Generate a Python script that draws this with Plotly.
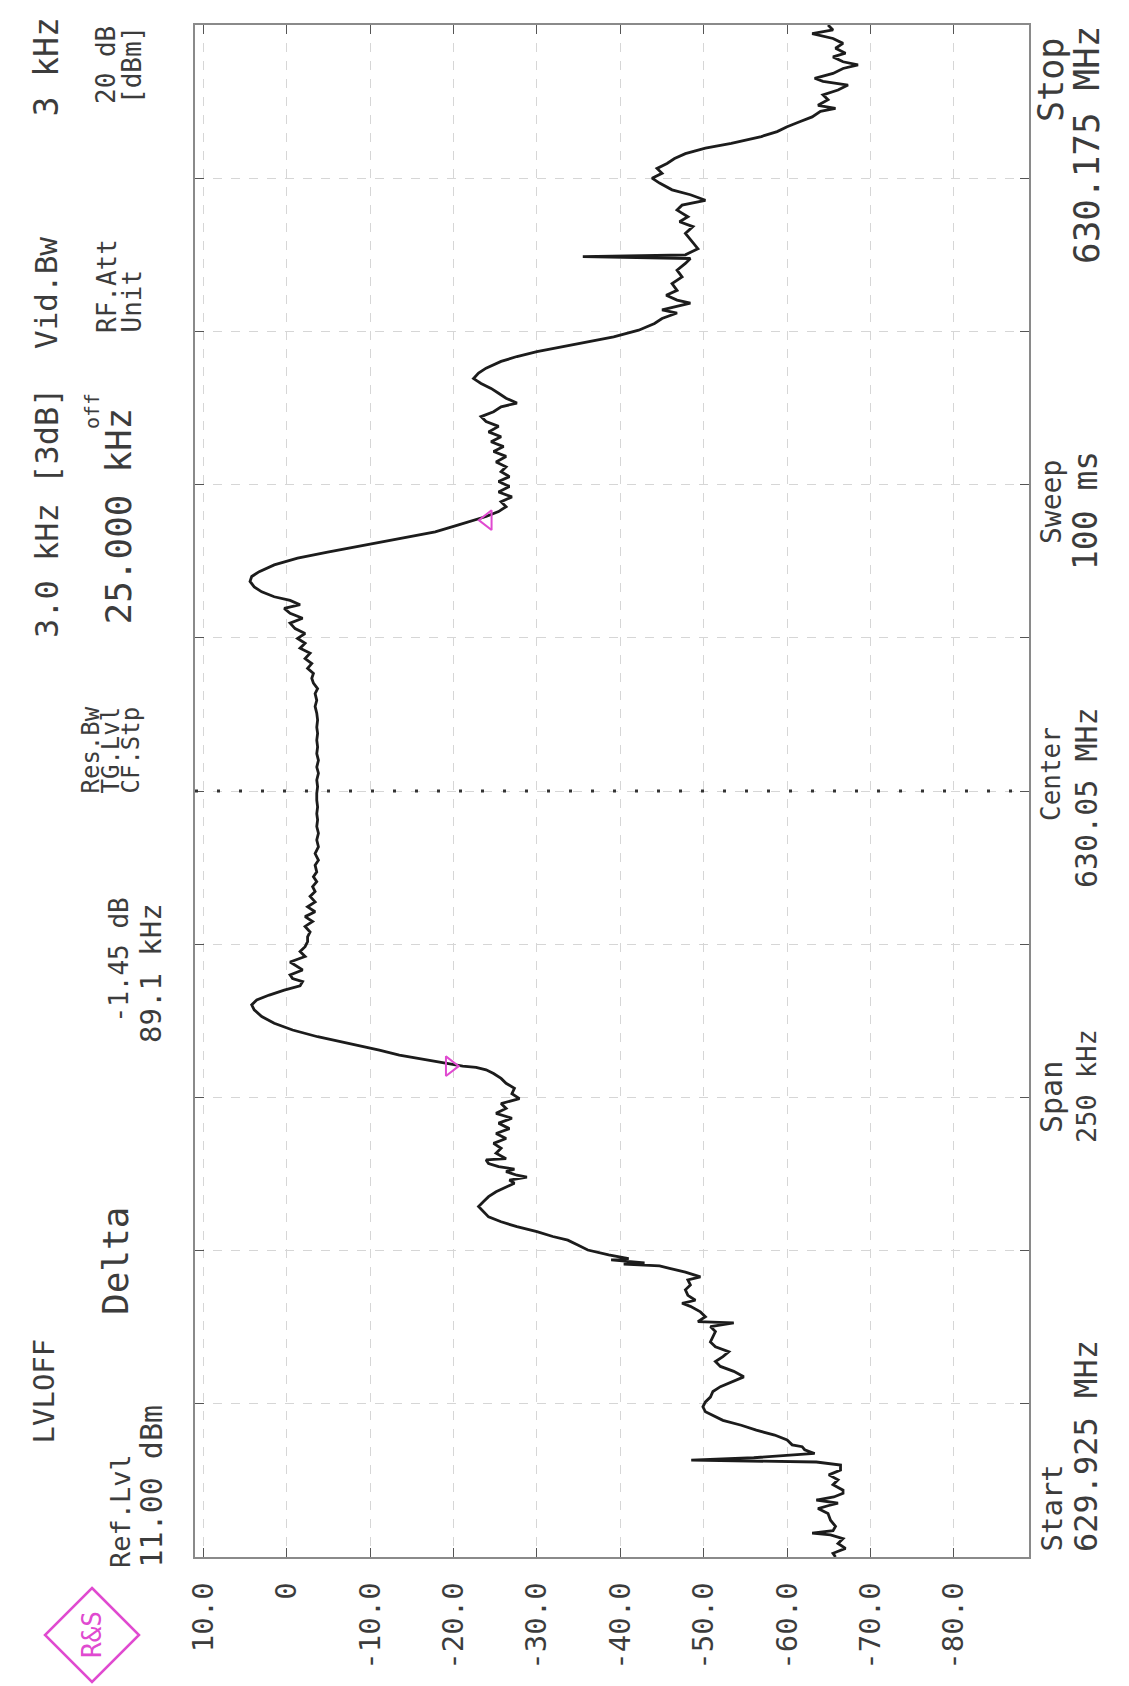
import plotly.graph_objects as go

# Analyzer settings printed around the graticule
START_MHZ = "629.925"
CENTER_MHZ = "630.05"
STOP_MHZ = "630.175"
SPAN_KHZ = 250.0
REF_LEVEL_DBM = 11.0
BOTTOM_LEVEL_DBM = -89.0

# Level graticule (10 dB/div) and its labels
level_ticks = [10, 0, -10, -20, -30, -40, -50, -60, -70, -80]
level_tick_text = ["10.0", "0", "-10.0", "-20.0", "-30.0", "-40.0",
                   "-50.0", "-60.0", "-70.0", "-80.0"]

# Frequency graticule (25 kHz/div), offset from start frequency
freq_ticks_khz = [0, 25, 50, 75, 100, 125, 150, 175, 200, 225, 250]

# Measured trace: frequency offset from start (kHz) and level (dBm)
freq_khz = [
    0.0, 0.6, 1.4, 2.2, 3.0, 3.6, 3.9, 4.3, 5.0, 6.0, 7.1, 7.9, 8.4, 8.8, 9.3,
    9.8, 10.4, 10.9, 11.8, 12.6, 13.4, 14.2, 15.0, 15.5, 15.8, 16.2, 16.9, 17.5,
    18.0, 18.3, 19.1, 19.9, 20.7, 21.5, 22.3,
    22.9, 23.7, 24.5, 25.3, 26.1, 27.0, 27.8, 28.6, 29.4, 30.3, 31.1, 31.9, 32.7,
    33.5, 34.3, 35.1, 35.9, 36.8, 37.6, 38.2, 38.4, 39.2, 40.0, 40.9, 41.4, 41.9,
    42.7, 43.6, 44.4, 45.2, 45.7, 46.5, 47.1, 47.5, 47.8, 48.0, 48.5, 48.7, 49.3,
    50.1, 50.9, 51.7, 52.3, 53.1, 53.9, 54.7, 55.5, 56.3, 57.2, 58.0, 58.8, 59.6,
    60.4, 61.0, 61.5, 62.0, 62.3, 62.9, 63.3, 63.7, 64.2, 64.8,
    65.0, 65.9, 66.7, 67.5, 68.3, 69.1, 69.9, 70.8, 71.6, 72.4, 73.2, 74.0, 74.8,
    75.6, 76.5, 77.3, 78.1, 78.9, 79.5, 79.9, 80.1, 80.6, 81.1, 81.9, 82.7, 83.8,
    84.9, 86.0, 87.1, 88.2, 89.3, 90.1, 90.9, 91.7, 92.5, 93.2, 93.9, 94.4, 95.0,
    95.8, 96.3, 97.1, 98.0, 98.8, 99.6, 100.4, 101.2, 102.0, 102.9, 103.7, 104.5,
    105.3, 106.1, 106.9, 107.8, 108.6, 109.4, 110.2, 111.0, 111.8,
    112.9, 113.7, 114.8, 115.9, 117.0, 118.1, 119.2, 120.3, 121.3, 122.4, 123.5,
    124.6, 125.7, 126.8, 127.9, 128.9, 130.0, 131.1, 132.2, 133.3, 134.4, 135.4,
    136.6, 137.7, 138.8, 139.8, 140.9, 141.7, 142.6, 143.4, 144.2, 145.0, 145.8,
    146.6, 147.5, 148.3, 149.1, 149.9, 150.7, 151.5, 152.4, 153.2, 154.0, 154.8,
    155.4, 156.1, 156.7, 157.5, 158.3, 159.2, 160.0, 160.8, 161.9, 163.0, 164.0,
    165.1, 166.2, 167.3, 168.4, 169.2, 169.8, 170.6, 171.4, 172.2, 173.0, 173.8,
    174.7, 175.5, 176.3, 177.1, 177.9, 178.7, 179.6, 180.4, 181.2, 182.0, 182.8,
    183.6, 184.5, 185.3, 186.1, 186.9, 187.7, 188.3, 189.1, 189.9, 190.7, 191.5,
    192.3, 193.2, 194.0, 195.1, 195.9, 196.7, 197.5, 198.3, 199.1, 200.2, 201.3,
    202.1, 203.0, 203.5, 204.0, 204.6, 205.1, 205.9, 206.7, 207.8, 208.9, 210.0,
    211.1, 211.9, 212.2, 212.5, 213.5, 214.9, 216.0, 217.1, 217.9, 218.7, 219.8,
    220.6, 221.4, 222.3, 223.1, 224.2, 225.0, 225.8, 226.6, 227.4, 228.2, 229.0,
    229.9, 230.7, 231.2, 231.8, 232.6, 233.4, 234.2, 235.0, 235.9, 236.4, 236.9,
    237.8, 238.6, 239.4, 240.2, 240.8, 241.3, 242.1, 242.9, 243.5, 244.0, 244.8,
    245.4, 246.2, 247.0, 247.8, 248.6, 249.2, 250.0,
]
level_dbm = [
    -65.8, -65.5, -67.0, -66.1, -66.7, -65.2, -63.0, -65.5, -65.8, -65.2, -64.9,
    -63.7, -65.0, -66.1, -63.5, -65.6, -66.7, -66.7, -65.5, -66.1, -65.0, -66.4,
    -66.4, -63.5, -48.5, -56.0, -63.3, -62.1, -61.8, -60.6, -60.0, -58.5, -56.3,
    -54.5, -52.3,
    -51.4, -50.2, -49.9, -50.2, -50.8, -51.1, -52.0, -53.3, -54.8, -53.6, -52.0,
    -51.4, -52.3, -53.0, -51.4, -50.8, -51.1, -51.4, -50.8, -53.6, -49.3, -50.2,
    -49.6, -48.4, -47.4, -49.0, -48.1, -47.8, -48.4, -48.1, -49.6, -47.8, -45.9,
    -44.7, -40.4, -42.9, -38.9, -41.0, -38.6, -36.1, -34.9, -33.7, -31.9, -30.0,
    -27.6, -25.7, -24.2, -23.6, -23.0, -23.6, -24.2, -25.1, -26.3, -27.3, -26.7,
    -28.8, -27.6, -26.3, -27.3, -25.4, -24.2, -23.9,
    -26.3, -25.1, -25.7, -24.8, -26.3, -25.1, -26.7, -25.4, -27.0, -25.1, -26.3,
    -25.7, -27.9, -27.0, -27.3, -26.3, -25.7, -24.8, -23.9, -22.7, -21.1, -19.0,
    -16.6, -13.5, -11.1, -7.4, -3.7, -0.7, 1.5, 3.0, 3.9, 4.2, 3.6, 2.1, 0.3,
    -1.6, -1.9, -0.7, -0.4, -1.9, -1.3, -0.4, -2.2, -1.6, -2.2, -2.5, -2.5, -2.8,
    -2.2, -3.1, -2.2, -3.4, -2.5, -3.4, -2.8, -3.4, -3.1, -3.6, -3.2, -3.6,
    -3.4, -3.8, -3.4, -3.8, -3.6, -3.8, -3.6, -3.7, -3.6, -3.7, -3.6, -3.6, -3.7,
    -3.6, -3.8, -3.6, -3.8, -3.6, -3.7, -3.6, -3.7, -3.6, -3.7, -3.6, -3.4, -3.6,
    -3.4, -3.7, -3.2, -3.0, -3.2, -2.5, -3.0, -2.2, -2.8, -1.6, -2.2, -1.3, -2.2,
    -1.0, -0.4, -1.9, -0.4, 0.3, -1.6, -0.4, 1.5, 3.0, 3.9, 4.4, 4.2, 3.3, 1.5,
    -1.3, -4.9, -9.2, -13.5, -17.8, -20.5, -22.55, -23.9, -25.4, -26.3, -25.7,
    -27.0, -25.4, -26.7, -25.4, -26.7, -25.7, -26.3, -25.1, -26.3, -24.8, -26.0,
    -24.5, -25.7, -24.2, -25.4, -23.9, -23.3, -24.8, -25.7, -27.6, -26.3, -25.4,
    -24.5, -23.3, -22.4, -23.0, -23.9, -25.7, -27.6, -30.0, -33.1, -36.1, -39.2,
    -42.2, -44.1, -45.0, -46.8, -45.0, -46.5, -48.4, -46.8, -45.5, -46.8, -46.2,
    -47.4, -46.8, -47.8, -48.4, -35.5, -47.8, -49.3, -48.4, -47.8, -48.7, -47.1,
    -48.1, -46.8, -47.4, -50.2, -48.4, -46.2, -44.7, -43.8, -45.0, -44.4, -45.6,
    -46.5, -47.8, -50.2, -53.3, -55.1, -56.9, -58.8, -60.0, -61.5, -63.0, -64.0,
    -65.8, -63.7, -64.9, -64.3, -66.1, -67.3, -64.3, -63.3, -65.5, -66.7, -68.5,
    -66.7, -65.5, -67.0, -65.8, -66.7, -65.5, -63.0, -65.5, -64.9,
]

# Marker readout: marker 1 and the delta marker relative to it
marker1_khz = 80.1
marker1_dbm = -21.1
delta_khz = 89.1
delta_db = -1.45
marker2_khz = marker1_khz + delta_khz
marker2_dbm = marker1_dbm + delta_db

# ---------------------------------------------------------------- layout
W, H = 1129, 1686
PL, PR, PT, PB = 195, 1029, 25, 1557          # plot box in pixels
INK = "#3c3c3c"
MAGENTA = "#e04ad0"
MONO = "DejaVu Sans Mono, Liberation Mono, monospace"


def px(x):
    return (x - PL) / (PR - PL)


def py(y):
    return (PB - y) / (PB - PT)


fig = go.Figure()

fig.add_trace(go.Scatter(
    x=level_dbm, y=freq_khz, mode="lines",
    line=dict(color="#1c1c1c", width=2.8),
    hoverinfo="skip", showlegend=False,
))

# marker symbols sit beside the trace, tip touching the marked point
tri_off = 1.5
fig.add_trace(go.Scatter(
    x=[marker1_dbm + tri_off], y=[marker1_khz], mode="markers",
    marker=dict(symbol="triangle-right-open", size=17,
                line=dict(color=MAGENTA, width=2), color=MAGENTA),
    hoverinfo="skip", showlegend=False,
))
fig.add_trace(go.Scatter(
    x=[marker2_dbm - tri_off], y=[marker2_khz], mode="markers",
    marker=dict(symbol="triangle-left-open", size=17,
                line=dict(color=MAGENTA, width=2), color=MAGENTA),
    hoverinfo="skip", showlegend=False,
))

# dotted centre-frequency line
fig.add_shape(type="line", xref="x", yref="y",
              x0=REF_LEVEL_DBM, x1=BOTTOM_LEVEL_DBM,
              y0=SPAN_KHZ / 2, y1=SPAN_KHZ / 2,
              line=dict(color="#333333", width=3, dash="3px,19px"))

annotations = []


def label(text, x, y, anchor="bottom", size=28, color=INK):
    annotations.append(dict(
        text=text, xref="paper", yref="paper", x=px(x), y=py(y),
        xanchor="center", yanchor=anchor, textangle=-90, showarrow=False,
        font=dict(family=MONO, size=size, color=color),
    ))


# header block
label("LVLOFF", 43, 1446, size=29)
label("Ref.Lvl", 120, 1570, size=27)
label("11.00 dBm", 151, 1570, size=30)
label("Delta", 115, 1317, size=36)
label("-1.45 dB", 118, 896, anchor="top", size=26)
label("89.1 kHz", 151, 901, anchor="top", size=29)
label("Res.Bw", 90, 796, size=24)
label("TG.Lvl", 110, 796, size=24)
label("CF.Stp", 130, 796, size=24)
label("3.0 kHz [3dB]", 47, 640, size=32)
label("off", 92, 431, size=20)
label("25.000 kHz", 118, 627, size=36)
label("Vid.Bw", 46, 351, size=31)
label("RF.Att", 107, 335, size=26)
label("Unit", 132, 335, size=26)
label("3 kHz", 46, 119, size=33)
label("20 dB", 106, 106, size=26)
label("[dBm]", 132, 106, size=26)

# frequency readouts along the right edge
label("Start", 1051, 1554, size=29)
label(START_MHZ + " MHz", 1086, 1554, size=32)
label("Span", 1051, 1097, anchor="middle", size=30)
label("250 kHz", 1086, 1086, anchor="middle", size=27)
label("Center", 1051, 774, anchor="middle", size=26)
label(CENTER_MHZ + " MHz", 1086, 798, anchor="middle", size=30)
label("Sweep", 1051, 502, anchor="middle", size=28)
label("100 ms", 1086, 511, anchor="middle", size=33)
label("Stop", 1051, 36, anchor="top", size=35)
label(STOP_MHZ + " MHz", 1086, 24, anchor="top", size=36)

# maker logo
cx, cy, r = 92, 1635, 47
fig.add_shape(type="path", xref="paper", yref="paper",
              path=(f"M {px(cx)} {py(cy - r)} L {px(cx + r)} {py(cy)} "
                    f"L {px(cx)} {py(cy + r)} L {px(cx - r)} {py(cy)} Z"),
              line=dict(color=MAGENTA, width=2.5))
label("R&S", cx, cy, anchor="middle", size=26, color=MAGENTA)

fig.update_layout(
    width=W, height=H,
    margin=dict(l=PL, r=W - PR, t=PT, b=H - PB),
    paper_bgcolor="white", plot_bgcolor="white",
    annotations=annotations,
    xaxis=dict(
        range=[REF_LEVEL_DBM, BOTTOM_LEVEL_DBM],
        tickmode="array", tickvals=level_ticks, ticktext=level_tick_text,
        tickangle=-90, ticks="inside", ticklen=9, tickcolor="#555",
        tickfont=dict(family=MONO, size=29, color=INK),
        ticklabelstandoff=12,
        showgrid=True, gridcolor="#d6d6d6", griddash="dash", gridwidth=1,
        showline=True, linecolor="#8a8a8a", linewidth=1.5, mirror="ticks",
        zeroline=False, fixedrange=True,
    ),
    yaxis=dict(
        range=[0, SPAN_KHZ],
        tickmode="array", tickvals=freq_ticks_khz, showticklabels=False,
        ticks="inside", ticklen=9, tickcolor="#555",
        showgrid=True, gridcolor="#d6d6d6", griddash="dash", gridwidth=1,
        showline=True, linecolor="#8a8a8a", linewidth=1.5, mirror="ticks",
        zeroline=False, fixedrange=True,
    ),
)

fig.write_html("out.html")
